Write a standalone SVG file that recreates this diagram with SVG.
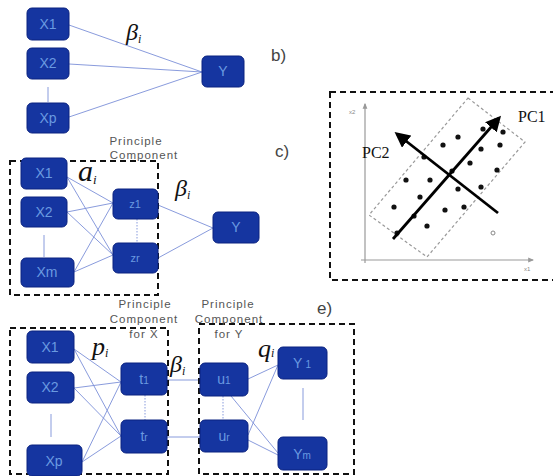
<svg xmlns="http://www.w3.org/2000/svg" width="553" height="476" viewBox="0 0 553 476">
<defs>
<style>
.n{fill:#1535a0;stroke:#0b2380;stroke-width:1}
.nt{font-family:"Liberation Sans","DejaVu Sans",sans-serif;font-size:14px;fill:#6a9ae0;text-anchor:middle}
.ns{font-size:10px}
.c{stroke:#7c90d8;stroke-width:0.9;fill:none}
.dot{stroke:#7c90d8;stroke-width:0.9;stroke-dasharray:1.5,1.5;fill:none}
.box{fill:none;stroke:#111;stroke-width:2;stroke-dasharray:6,4}
.lab{font-family:"Liberation Sans","DejaVu Sans",sans-serif;font-size:17px;fill:#444}
.pc{font-family:"Liberation Sans","DejaVu Sans",sans-serif;font-size:11.5px;fill:#555;letter-spacing:1px;text-anchor:middle}
.g{font-family:"Liberation Serif","DejaVu Serif",serif;font-style:italic;fill:#111}
.pt{fill:#111}
.ax{stroke:#999;stroke-width:1.2;fill:none}
.arr{stroke:#000;stroke-width:2.8;fill:none}
.tiny{font-family:"Liberation Sans",sans-serif;font-size:6px;fill:#888}
.serif{font-family:"Liberation Serif","DejaVu Serif",serif;font-size:16px;fill:#111}
</style>
<marker id="ah" viewBox="0 0 10 10" refX="8" refY="5" markerWidth="5.5" markerHeight="5.5" orient="auto"><path d="M0,0 L10,5 L0,10 Z" fill="#000"/></marker>
<marker id="ag" viewBox="0 0 10 10" refX="8" refY="5" markerWidth="5" markerHeight="5" orient="auto"><path d="M0,1 L10,5 L0,9 Z" fill="#999"/></marker>
</defs>
<rect width="553" height="476" fill="#fff"/>

<g id="connectors">
<line class="c" x1="69" y1="25" x2="202" y2="72"/>
<line class="c" x1="69" y1="64" x2="202" y2="72"/>
<line class="c" x1="69" y1="117" x2="202" y2="72"/>
<line class="c" x1="48" y1="87" x2="48" y2="102"/>
<line class="c" x1="67" y1="177" x2="113" y2="203"/>
<line class="c" x1="67" y1="177" x2="113" y2="255"/>
<line class="c" x1="67" y1="212" x2="113" y2="203"/>
<line class="c" x1="67" y1="212" x2="113" y2="255"/>
<line class="c" x1="74" y1="272" x2="113" y2="203"/>
<line class="c" x1="74" y1="272" x2="113" y2="255"/>
<line class="c" x1="158" y1="205" x2="213" y2="228"/>
<line class="c" x1="158" y1="258" x2="213" y2="228"/>
<line class="c" x1="44" y1="235" x2="44" y2="257"/>
<line class="dot" x1="137" y1="219" x2="137" y2="243"/>
<line class="c" x1="74" y1="349" x2="121" y2="382"/>
<line class="c" x1="74" y1="349" x2="121" y2="436"/>
<line class="c" x1="74" y1="388" x2="121" y2="382"/>
<line class="c" x1="74" y1="388" x2="121" y2="436"/>
<line class="c" x1="82" y1="462" x2="121" y2="382"/>
<line class="c" x1="82" y1="462" x2="121" y2="436"/>
<line class="c" x1="51" y1="414" x2="51" y2="437"/>
<line class="dot" x1="145" y1="395" x2="145" y2="420"/>
<line class="c" x1="167" y1="380" x2="200" y2="380"/>
<line class="c" x1="167" y1="437" x2="200" y2="437"/>
<line class="dot" x1="223" y1="396" x2="223" y2="420"/>
<line class="c" x1="248" y1="379" x2="278" y2="365"/>
<line class="c" x1="231" y1="396" x2="278" y2="453"/>
<line class="c" x1="248" y1="435" x2="278" y2="365"/>
<line class="c" x1="248" y1="440" x2="278" y2="455"/>
<line class="c" x1="303" y1="388" x2="303" y2="420"/>
</g>

<g id="b-x1"><rect class="n" x="27" y="8" width="42" height="32" rx="5"/><text class="nt" x="48" y="29">X1</text></g>
<g id="b-x2"><rect class="n" x="27" y="48" width="42" height="31" rx="5"/><text class="nt" x="48" y="68">X2</text></g>
<g id="b-xp"><rect class="n" x="27" y="103" width="42" height="30" rx="5"/><text class="nt" x="48" y="123">Xp</text></g>
<g id="b-y"><rect class="n" x="202" y="56" width="42" height="31" rx="5"/><text class="nt" x="223" y="76">Y</text></g>
<text class="g" x="126" y="40" font-size="24">β<tspan font-size="12" dy="3">i</tspan></text>
<text class="lab" x="271" y="61">b)</text>

<rect class="box" x="10" y="161" width="148" height="134"/>
<g id="c-x1"><rect class="n" x="21" y="158" width="46" height="31" rx="5"/><text class="nt" x="44" y="178">X1</text></g>
<g id="c-x2"><rect class="n" x="21" y="197" width="46" height="30" rx="5"/><text class="nt" x="44" y="217">X2</text></g>
<g id="c-xm"><rect class="n" x="21" y="258" width="53" height="29" rx="5"/><text class="nt" x="47" y="277">Xm</text></g>
<g id="c-z1"><rect class="n" x="113" y="189" width="45" height="30" rx="5"/><text class="nt" x="135" y="208" style="font-size:11px">z1</text></g>
<g id="c-zr"><rect class="n" x="113" y="243" width="45" height="30" rx="5"/><text class="nt" x="135" y="262" style="font-size:11px">zr</text></g>
<g id="c-y"><rect class="n" x="213" y="212" width="46" height="31" rx="5"/><text class="nt" x="236" y="232">Y</text></g>
<text class="g" x="78" y="181" font-size="30">a<tspan font-size="13" dy="3">i</tspan></text>
<text class="g" x="175" y="196" font-size="24">β<tspan font-size="12" dy="3">i</tspan></text>
<text class="pc" x="136" y="145">Principle</text>
<text class="pc" x="144" y="159">Component</text>
<text class="lab" x="275" y="157">c)</text>

<g id="d-plot">
<rect class="box" x="330" y="92" width="230" height="188"/>
<line class="ax" x1="365" y1="263" x2="365" y2="104" marker-end="url(#ag)"/>
<line class="ax" x1="361" y1="260" x2="533" y2="260" marker-end="url(#ag)"/>
<text class="tiny" x="349" y="114">x2</text>
<text class="tiny" x="524" y="271">x1</text>
<polygon points="468,98 525,142 427,257 369,215" fill="none" stroke="#999" stroke-width="1.2" stroke-dasharray="3,2.5"/>
<g class="pt">
<circle cx="483" cy="129" r="2.6"/><circle cx="503" cy="132" r="2.6"/><circle cx="458" cy="137" r="2.6"/>
<circle cx="443" cy="145" r="2.6"/><circle cx="481" cy="149" r="2.6"/><circle cx="500" cy="145" r="2.6"/>
<circle cx="424" cy="157" r="2.6"/><circle cx="470" cy="163" r="2.6"/><circle cx="452" cy="171" r="2.6"/>
<circle cx="497" cy="170" r="2.6"/><circle cx="406" cy="180" r="2.6"/><circle cx="430" cy="180" r="2.6"/>
<circle cx="458" cy="189" r="2.6"/><circle cx="481" cy="187" r="2.6"/><circle cx="420" cy="197" r="2.6"/>
<circle cx="394" cy="207" r="2.6"/><circle cx="414" cy="216" r="2.6"/><circle cx="445" cy="210" r="2.6"/>
<circle cx="464" cy="207" r="2.6"/><circle cx="427" cy="226" r="2.6"/><circle cx="397" cy="233" r="2.6"/>
</g>
<circle cx="493" cy="233" r="2" fill="none" stroke="#888" stroke-width="1"/>
<line class="arr" x1="393" y1="239" x2="499" y2="118" marker-end="url(#ah)"/>
<line class="arr" x1="498" y1="213" x2="397" y2="134" marker-end="url(#ah)"/>
<text class="serif" x="518" y="122">PC1</text>
<text class="serif" x="362" y="158">PC2</text>
</g>

<rect class="box" x="10" y="328" width="158" height="146"/>
<rect class="box" x="199" y="324" width="155" height="150"/>
<g id="e-x1"><rect class="n" x="27" y="331" width="47" height="32" rx="5"/><text class="nt" x="50" y="352">X1</text></g>
<g id="e-x2"><rect class="n" x="27" y="372" width="47" height="31" rx="5"/><text class="nt" x="50" y="392">X2</text></g>
<g id="e-xp"><rect class="n" x="27" y="445" width="55" height="31" rx="5"/><text class="nt" x="54" y="466">Xp</text></g>
<g id="e-t1"><rect class="n" x="121" y="363" width="46" height="32" rx="5"/><text class="nt" x="144" y="384">t<tspan class="ns">1</tspan></text></g>
<g id="e-tr"><rect class="n" x="121" y="420" width="46" height="33" rx="5"/><text class="nt" x="144" y="441">t<tspan class="ns">r</tspan></text></g>
<g id="e-u1"><rect class="n" x="200" y="363" width="48" height="33" rx="5"/><text class="nt" x="224" y="384">u<tspan class="ns">1</tspan></text></g>
<g id="e-ur"><rect class="n" x="200" y="420" width="48" height="32" rx="5"/><text class="nt" x="224" y="441">u<tspan class="ns">r</tspan></text></g>
<g id="e-y1"><rect class="n" x="278" y="347" width="49" height="32" rx="5"/><text class="nt" x="302" y="368">Y<tspan class="ns" dx="3">1</tspan></text></g>
<g id="e-ym"><rect class="n" x="278" y="437" width="49" height="33" rx="5"/><text class="nt" x="302" y="459">Y<tspan class="ns">m</tspan></text></g>
<text class="g" x="92" y="355" font-size="26">p<tspan font-size="12" dy="2">i</tspan></text>
<text class="g" x="170" y="372" font-size="24">β<tspan font-size="12" dy="3">i</tspan></text>
<text class="g" x="258" y="357" font-size="26">q<tspan font-size="12" dy="0">i</tspan></text>
<text class="pc" x="145" y="308">Principle</text>
<text class="pc" x="144" y="323">Component</text>
<text class="pc" x="144" y="338">for X</text>
<text class="pc" x="228" y="308">Principle</text>
<text class="pc" x="229" y="323">Component</text>
<text class="pc" x="229" y="338">for Y</text>
<text class="lab" x="317" y="314">e)</text>
</svg>
